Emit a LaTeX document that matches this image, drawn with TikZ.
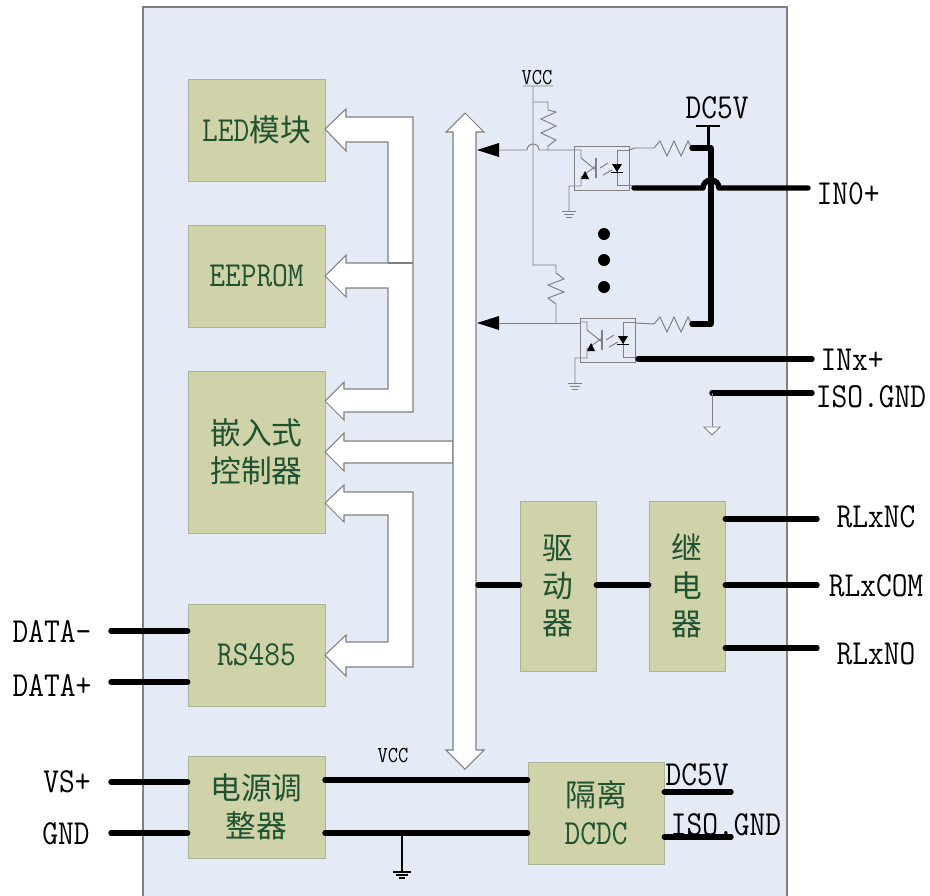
\documentclass[tikz,border=0pt]{standalone}
\usepackage{fontspec}
\newfontfamily\cjkfull{Noto Sans CJK SC}
\newcommand{\cjk}{\cjkfull\fontsize{17.5}{21.5}\selectfont}
\newfontfamily\lat[FakeStretch=0.87]{Latin Modern Mono}
\definecolor{panelc}{HTML}{E4EAF6}
\definecolor{boxc}{HTML}{D0D3A9}
\definecolor{boxl}{HTML}{A9B597}
\definecolor{inkc}{HTML}{1F5230}
\definecolor{med}{gray}{.5}
\tikzset{
  block/.style={draw=boxl,fill=boxc,text=inkc,align=center,inner sep=0pt,font=\lat\fontsize{20}{21.5}\selectfont},
  tag/.style={inner sep=0pt,font=\lat\fontsize{20}{22}\selectfont},
  smalltag/.style={inner sep=0pt,font=\lat\fontsize{13}{14}\selectfont},
  heavy/.style={line width=3.1pt,line cap=round,line join=round},
  thin line/.style={draw=med,line width=0.55pt},
  bigarrow/.style={draw=med,fill=white,line width=0.6pt,line join=miter}
}
\begin{document}
\begin{tikzpicture}[x=0.02cm,y=-0.02cm]
\useasboundingbox (0,0) rectangle (930,896);
\clip (0,0) rectangle (930,896);
\draw[draw=med,fill=panelc,line width=0.7pt] (143,7) rectangle (787,920);
% blocks
\node[block,minimum width=2.74cm,minimum height=2.04cm] (led) at (256.5,130) {LED{\cjk 模块}};
\node[block,minimum width=2.74cm,minimum height=2.04cm] (eeprom) at (256.5,276) {EEPROM};
\node[block,minimum width=2.74cm,minimum height=3.24cm] (mcu) at (256.5,452) {\cjk 嵌入式\\\cjk 控制器};
\node[block,minimum width=2.74cm,minimum height=2.04cm] (rs) at (256.5,655) {RS485};
\node[block,minimum width=2.74cm,minimum height=2.04cm] (power) at (256.5,807) {\cjk 电源调\\\cjk 整器};
\node[block,minimum width=1.52cm,minimum height=3.4cm] (driver) at (558,586) {\cjk 驱\\\cjk 动\\\cjk 器};
\node[block,minimum width=1.52cm,minimum height=3.4cm] (relay) at (687,586) {\cjk 继\\\cjk 电\\\cjk 器};
\node[block,minimum width=2.72cm,minimum height=2.04cm] (dcdc) at (596,813) {\cjk 隔离\\DCDC};
% white arrows
\draw[bigarrow] (325,129) -- (346,109) -- (346,117) -- (413,117) -- (413,412) -- (344,412) -- (344,420) -- (325,401) -- (344,382) -- (344,389) -- (388,389) -- (388,288) -- (346,288) -- (346,297) -- (325,276) -- (346,255) -- (346,263) -- (388,263) -- (388,142) -- (346,142) -- (346,151) -- cycle;
\draw[bigarrow] (388,263) -- (413,263);
\draw[bigarrow] (325,503) -- (344,485) -- (344,492) -- (413,492) -- (413,667) -- (346,667) -- (346,676) -- (325,655) -- (346,635) -- (346,642) -- (388,642) -- (388,515) -- (344,515) -- (344,522) -- cycle;
\draw[bigarrow] (325,452) -- (344,433) -- (344,441) -- (453,441) -- (453,463) -- (344,463) -- (344,471) -- cycle;
\draw[bigarrow] (465,113) -- (484,132) -- (476,132) -- (476,750) -- (484,750) -- (465,769) -- (446,750) -- (453,750) -- (453,132) -- (446,132) -- cycle;
% optocoupler
\foreach \sx/\sy in {0/0,6/172} {
\begin{scope}[shift={(\sx,\sy)}]
\draw[thin line] (574,146) rectangle (629,190);
\draw[thin line] (574,150) -- (581,150) -- (581,158) -- (596,170);
\draw[thin line] (596,166) -- (581,177) -- (581,186) -- (569,186) -- (569,211);
\draw[thin line] (562,211) -- (576,211) (564,214) -- (574,214) (566,217) -- (572,217);
\draw[thin line,line width=1pt] (596,158) -- (596,178);
\fill (581,179) -- (589,179) -- (585,171) -- cycle;
\draw[thin line] (600,168) -- (608,163) (603,175) -- (612,170);
\draw[thin line] (629,150) -- (617,150) -- (617,185) -- (633,185);
\fill (612,164) -- (622,164) -- (617,172) -- cycle;
\draw (611,172.5) -- (623,172.5);
\end{scope}
}
% signal lines and resistors
\coordinate (sa) at (477,150);
\coordinate (sb) at (477,323);
\fill (sa) -- ++(22,-7) -- ++(0,14) -- cycle;
\fill (sb) -- ++(22,-7) -- ++(0,14) -- cycle;
\draw[thin line] (499,150) -- (527,150) arc (180:360:6) -- (574,150);
\draw[thin line] (499,323) -- (581,323);
\node[smalltag] (vcca) at (537,78) {VCC};
\draw[thin line] (523,86) -- (553,86) (533,86) -- (533,265) -- (556,265) -- (556,273) -- (564,279) -- (548,285) -- (564,292) -- (548,298) -- (556,304) -- (556,323);
\draw[thin line] (533,102) -- (548,102) -- (548,110) -- (556,112) -- (541,119) -- (556,126) -- (541,133) -- (556,140) -- (548,146) -- (548,150);
\draw[thin line] (629,150) -- (635,148) -- (654,148) -- (660,141) -- (667,156) -- (674,141) -- (681,156) -- (688,141) -- (692,149);
\draw[thin line] (635,323) -- (654,324) -- (660,317) -- (667,332) -- (674,317) -- (681,332) -- (688,317) -- (692,325);
% DC5V rail
\node[tag] (dca) at (717,108) {DC5V};
\draw[line width=1.7pt] (696,126) -- (720,126) (708,126) -- (708,148);
\draw[heavy] (692,148) -- (711,148) -- (711,324) -- (692,324);
\foreach \y in {234,260,287} { \fill (604,\y) circle (6); }
% inputs
\node[tag] (ina) at (848,194) {IN0+};
\node[tag] (inb) at (852,360) {INx+};
\node[tag] (iso) at (871,397) {ISO.GND};
\coordinate (ina end) at (808,188);
\coordinate (inb end) at (812,359);
\coordinate (iso end) at (812,393);
\draw[heavy] (634,188) -- (703,188) arc (180:360:8) -- (ina end);
\draw[heavy] (638,359) -- (inb end);
\draw[heavy] (712,393) -- (iso end);
\draw[thin line] (712,393) -- (712,427);
\draw[thin line,fill=white] (704,427) -- (720,427) -- (712,435) -- cycle;
% relay side
\node[tag] (nc) at (876,517) {RLxNC};
\node[tag] (com) at (876,586) {RLxCOM};
\node[tag] (no) at (876,654) {RLxNO};
\coordinate (nc end) at (817,519);
\coordinate (com end) at (817,585);
\coordinate (no end) at (817,648);
\foreach \e in {nc end,com end,no end} { \draw[heavy] (\e) -- (\e -| relay.east); }
\coordinate (bus tap) at (478,585);
\draw[heavy] (bus tap) -- (bus tap -| driver.west);
\draw[heavy] (driver.east |- bus tap) -- (relay.west |- bus tap);
% left terminals
\node[tag] (dm) at (52,632) {DATA-};
\node[tag] (dp) at (52,686) {DATA+};
\node[tag] (vs) at (67,782) {VS+};
\node[tag] (gnd) at (66,834) {GND};
\coordinate (dm end) at (111,631);
\coordinate (dp end) at (111,682);
\coordinate (vs end) at (111,782);
\coordinate (gnd end) at (111,833);
\draw[heavy] (dm end) -- (dm end -| rs.west);
\draw[heavy] (dp end) -- (dp end -| rs.west);
\draw[heavy] (vs end) -- (vs end -| power.west);
\draw[heavy] (gnd end) -- (gnd end -| power.west);
% power
\coordinate (vcc line) at (325,780);
\coordinate (gnd line) at (325,833);
\node[smalltag] (vccb) at (393,756) {VCC};
\draw[heavy] (vcc line) -- (vcc line -| dcdc.west);
\draw[heavy] (gnd line) -- (gnd line -| dcdc.west);
\coordinate (gnd tap) at (402,833);
\draw[line width=0.8pt] (gnd tap) -- (402,872);
\draw[line width=0.8pt] (393,872) -- (411,872) (396,875) -- (408,875) (399,878) -- (405,878);
\coordinate (dc out) at (731,792);
\coordinate (iso out) at (731,837);
\draw[heavy] (dc out) -- (dc out -| dcdc.east);
\draw[heavy] (iso out) -- (iso out -| dcdc.east);
\node[tag] (dcb) at (697,775) {DC5V};
\node[tag] (isob) at (726,825) {ISO.GND};
\end{tikzpicture}
\end{document}
